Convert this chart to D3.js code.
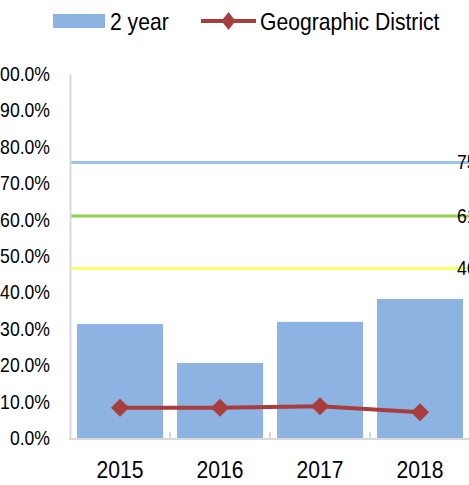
<!DOCTYPE html>
<html>
<head>
<meta charset="utf-8">
<script src="https://cdn.jsdelivr.net/npm/d3@7"></script>
<style>
  html, body { margin: 0; padding: 0; background: #fff; }
  svg { display: block; font-family: "Liberation Sans", Arial, sans-serif; }
</style>
</head>
<body>
<svg id="chart"></svg>
<script>
// Data
const years = ["2015", "2016", "2017", "2018"];
const twoYear = [0.313, 0.206, 0.319, 0.382]; // bars
const district = [0.083, 0.083, 0.087, 0.071]; // line
const yTicks = [0, 0.1, 0.2, 0.3, 0.4, 0.5, 0.6, 0.7, 0.8, 0.9, 1.0];
const refValues = [0.757, 0.610, 0.466];
const refLabels = ["75.7%", "61.0%", "46.6%"];
const refColors = ["#9dc3e6", "#92d050", "#ffff66"];

// Configurations
const width = 469, height = 485;
const marginLeft = 70, marginTop = 74, marginBottom = 47, marginRight = -1;
const squeeze = 0.88; // the original text is a bit narrow
const barColor = "#8db3e2";
const lineColor = "#a83d3b";
const axisColor = "#d9d9d9";

const svg = d3.select("#chart")
    .attr("width", width)
    .attr("height", height)
    .attr("viewBox", [0, 0, width, height]);

const x = d3.scaleBand(years, [marginLeft, width - marginRight])
    .paddingInner(0.14)
    .paddingOuter(0.07);
const y = d3.scaleLinear([0, 1], [height - marginBottom, marginTop]);

// reference lines
svg.append("g")
    .selectAll("line")
    .data(refValues)
    .join("line")
    .attr("x1", marginLeft)
    .attr("x2", width)
    .attr("y1", d => y(d))
    .attr("y2", d => y(d))
    .attr("stroke", (d, i) => refColors[i])
    .attr("stroke-width", 3);

svg.append("g")
    .selectAll("text")
    .data(refValues)
    .join("text")
    .attr("transform", d => `translate(457,${y(d)}) scale(${squeeze},1)`)
    .attr("dy", "0.35em")
    .attr("font-size", 20)
    .attr("fill", "#000")
    .text((d, i) => refLabels[i]);

// bars
svg.append("g")
    .attr("fill", barColor)
    .selectAll("rect")
    .data(years)
    .join("rect")
    .attr("x", d => x(d))
    .attr("y", (d, i) => y(twoYear[i]))
    .attr("width", x.bandwidth())
    .attr("height", (d, i) => y(0) - y(twoYear[i]));

// y axis
svg.append("g")
    .attr("transform", `translate(${marginLeft},0)`)
    .call(d3.axisLeft(y).tickValues(yTicks).tickFormat(d3.format(".1%")).tickSize(0).tickPadding(20))
    .call(g => g.select(".domain").attr("stroke", axisColor).attr("stroke-width", 2))
    .call(g => g.selectAll(".tick text")
        .attr("font-size", 20)
        .attr("font-family", null)
        .attr("fill", "#000")
        .attr("x", -20 / squeeze)
        .attr("transform", `scale(${squeeze},1)`));

// x axis
const xAxis = svg.append("g")
    .attr("transform", `translate(0,${y(0) + 1})`);
xAxis.append("line")
    .attr("x1", marginLeft - 1)
    .attr("x2", width)
    .attr("stroke", axisColor)
    .attr("stroke-width", 2);
xAxis.selectAll(".sep")
    .data(years.slice(1))
    .join("line")
    .attr("class", "sep")
    .attr("x1", d => x(d) - x.step() * x.paddingInner() / 2)
    .attr("x2", d => x(d) - x.step() * x.paddingInner() / 2)
    .attr("y1", 0)
    .attr("y2", -7)
    .attr("stroke", axisColor)
    .attr("stroke-width", 2);
xAxis.selectAll("text")
    .data(years)
    .join("text")
    .attr("transform", d => `translate(${x(d) + x.bandwidth() / 2},39) scale(${squeeze},1)`)
    .attr("text-anchor", "middle")
    .attr("font-size", 24)
    .attr("fill", "#000")
    .text(d => d);

// district line
const cx = d => x(d) + x.bandwidth() / 2;
svg.append("path")
    .datum(years)
    .attr("fill", "none")
    .attr("stroke", lineColor)
    .attr("stroke-width", 4)
    .attr("d", d3.line().x(cx).y((d, i) => y(district[i])));

const diamond = (hw, hh) => `M0,${-hh}L${hw},0L0,${hh}L${-hw},0Z`;
svg.append("g")
    .selectAll("path")
    .data(years)
    .join("path")
    .attr("transform", (d, i) => `translate(${cx(d)},${y(district[i])})`)
    .attr("d", diamond(9, 9))
    .attr("fill", lineColor);

// legend
const legend = svg.append("g");
legend.append("rect")
    .attr("x", 53).attr("y", 14)
    .attr("width", 52).attr("height", 14)
    .attr("fill", barColor);
legend.append("text")
    .attr("transform", `translate(110,30) scale(${squeeze},1)`)
    .attr("font-size", 24)
    .text("2 year");
legend.append("line")
    .attr("x1", 201).attr("x2", 256)
    .attr("y1", 21).attr("y2", 21)
    .attr("stroke", lineColor)
    .attr("stroke-width", 4);
legend.append("path")
    .attr("transform", "translate(228.5,21)")
    .attr("d", diamond(7, 9))
    .attr("fill", lineColor);
legend.append("text")
    .attr("transform", `translate(260,30) scale(${squeeze},1)`)
    .attr("font-size", 24)
    .text("Geographic District");
</script>
</body>
</html>
